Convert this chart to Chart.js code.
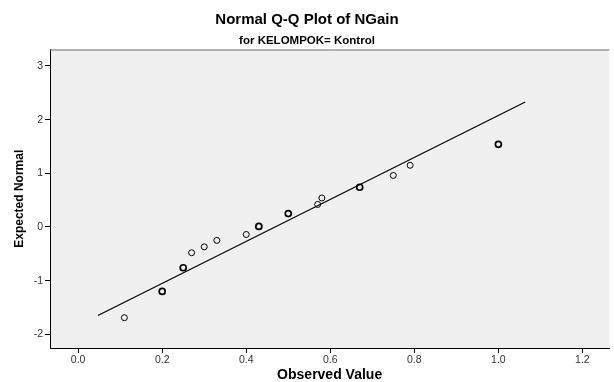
<!DOCTYPE html>
<html>
<head>
<meta charset="utf-8">
<script src="https://cdn.jsdelivr.net/npm/chart.js@4/dist/chart.umd.min.js"></script>
<style>
  html, body { margin: 0; padding: 0; background: #ffffff; }
  #wrap { width: 614px; height: 382px; }
</style>
</head>
<body>
<div id="wrap"><canvas id="c" width="614" height="382"></canvas></div>
<script>
// ---- data ----
const observedValues = [0.11, 0.20, 0.25, 0.27, 0.30, 0.33, 0.40, 0.43, 0.50, 0.57, 0.58, 0.67, 0.75, 0.79, 1.00];
const expectedNormal = [-1.69, -1.20, -0.76, -0.48, -0.37, -0.25, -0.14, 0.01, 0.25, 0.42, 0.54, 0.74, 0.96, 1.15, 1.54];
const caseCounts     = [1, 2, 2, 1, 1, 1, 1, 2, 2, 1, 1, 2, 1, 1, 2];
const refLineX = [0.047, 1.064];
const refLineY = [-1.65, 2.33];
const xTickValues = [0.0, 0.2, 0.4, 0.6, 0.8, 1.0, 1.2];
const yTickValues = [-2, -1, 0, 1, 2, 3];
const xRange = [-0.067, 1.264];
const yRange = [-2.255, 3.307];
const titleText = 'Normal Q-Q Plot of NGain';
const subtitleText = 'for KELOMPOK= Kontrol';
const xTitle = 'Observed Value';
const yTitle = 'Expected Normal';

const FONT = "'Liberation Sans', Arial, Helvetica, sans-serif";

const points = observedValues.map((v, i) => ({ x: v, y: expectedNormal[i] }));
const linePts = refLineX.map((v, i) => ({ x: v, y: refLineY[i] }));

const plotFrame = {
  id: 'plotFrame',
  beforeDraw(chart) {
    const { ctx, chartArea: a } = chart;
    ctx.save();
    ctx.fillStyle = '#f0f0f0';
    ctx.fillRect(a.left, a.top, a.right - a.left, a.bottom - a.top);
    ctx.restore();
  },
  afterDraw(chart) {
    const { ctx, chartArea: a } = chart;
    ctx.save();
    ctx.strokeStyle = '#707070';
    ctx.lineWidth = 1;
    ctx.beginPath();
    ctx.moveTo(a.left, a.top + 0.5);
    ctx.lineTo(a.right, a.top + 0.5);
    ctx.stroke();
    ctx.restore();
  }
};

new Chart(document.getElementById('c'), {
  type: 'scatter',
  data: {
    datasets: [
      {
        label: 'Observed',
        data: points,
        pointStyle: 'circle',
        pointRadius: 3,
        pointHoverRadius: 3,
        backgroundColor: 'rgba(0,0,0,0)',
        borderColor: '#000000',
        pointBorderWidth: caseCounts.map(c => c > 1 ? 1.7 : 1.0),
        order: 1
      },
      {
        label: 'Reference',
        type: 'line',
        data: linePts,
        showLine: true,
        borderColor: '#000000',
        borderWidth: 1.2,
        pointRadius: 0,
        fill: false,
        order: 2
      }
    ]
  },
  options: {
    responsive: false,
    animation: false,
    events: [],
    layout: { padding: { left: 0, right: 0, top: 0, bottom: 0 } },
    plugins: {
      legend: { display: false },
      tooltip: { enabled: false },
      title: {
        display: true,
        text: titleText,
        color: '#000000',
        font: { family: FONT, size: 15, weight: 'bold', lineHeight: 1.2 },
        padding: { top: 11, bottom: 0 }
      },
      subtitle: {
        display: true,
        text: subtitleText,
        color: '#000000',
        font: { family: FONT, size: 11.5, weight: 'bold', lineHeight: 1.2 },
        padding: { top: 5, bottom: 1.7 }
      }
    },
    scales: {
      x: {
        type: 'linear',
        min: xRange[0],
        max: xRange[1],
        afterBuildTicks(scale) { scale.ticks = xTickValues.map(v => ({ value: v })); },
        afterFit(scale) { scale.height = 34; },
        ticks: {
          callback: v => Number(v).toFixed(1),
          color: '#333333',
          font: { family: FONT, size: 10.5 },
          padding: 1,
          maxRotation: 0,
          autoSkip: false
        },
        grid: { drawOnChartArea: false, drawTicks: true, tickLength: 5, color: '#000000', lineWidth: 1 },
        border: { display: true, color: '#000000', width: 1 },
        title: {
          display: true,
          text: xTitle,
          color: '#000000',
          font: { family: FONT, size: 14, weight: 'bold', lineHeight: 1 },
          padding: { top: 0, bottom: 0 }
        }
      },
      y: {
        type: 'linear',
        min: yRange[0],
        max: yRange[1],
        afterBuildTicks(scale) { scale.ticks = yTickValues.map(v => ({ value: v })); },
        afterFit(scale) { scale.width = 50; },
        ticks: {
          callback: v => String(v),
          color: '#333333',
          font: { family: FONT, size: 10.5 },
          padding: 2,
          autoSkip: false
        },
        grid: { drawOnChartArea: false, drawTicks: true, tickLength: 5, color: '#000000', lineWidth: 1 },
        border: { display: true, color: '#000000', width: 1 },
        title: {
          display: true,
          text: yTitle,
          color: '#000000',
          font: { family: FONT, size: 12, weight: 'bold', lineHeight: 1.2 },
          padding: { top: 12, bottom: 0 }
        }
      }
    }
  },
  plugins: [plotFrame]
});
</script>
</body>
</html>
